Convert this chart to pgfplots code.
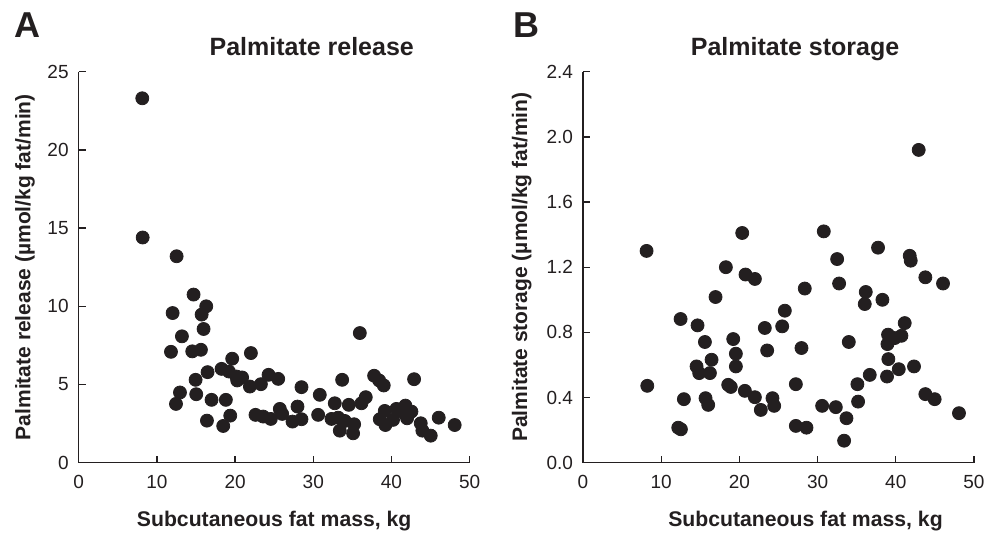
\documentclass[border=0pt]{standalone}
\usepackage{fontspec}
\setmainfont{Liberation Sans}
\usepackage{pgfplots}
\pgfplotsset{compat=1.18}
\definecolor{ink}{RGB}{35,31,32}

\pgfplotsset{
  panel/.style={
    scale only axis,
    width=195.5pt, height=195.5pt,
    anchor=south west,
    axis lines=left,
    axis line style={ink, line width=0.65pt, -},
    xmin=0, xmax=50, ymin=0,
    xtick={0,10,...,50},
    tick align=inside,
    major tick length=3.5pt,
    tick style={ink, line width=0.65pt},
    tick label style={font=\fontsize{9.5}{10}\selectfont, text=ink},
    xticklabel style={yshift=-2.5pt},
    yticklabel style={xshift=-1.5pt},
    /pgf/number format/assume math mode=true,
    clip=false,
  },
  dots/.style={only marks, mark=*, mark size=3.25pt, color=ink, mark options={fill=ink, draw=ink}},
}

\begin{document}
\begin{tikzpicture}
\useasboundingbox (-39.35pt,-34.65pt) rectangle (453.15pt,231.35pt);

% Panel A
\begin{axis}[panel, at={(0,0)}, ymax=25, ytick={0,5,...,25}]
\addplot[dots] coordinates {
(8.13,23.3) (8.18,14.4) (12.52,13.2) (14.69,10.75) (12.01,9.57) (16.31,10.0)
(15.72,9.47) (15.97,8.55) (13.20,8.08) (11.80,7.09) (14.52,7.12) (15.63,7.22)
(22.02,7.01) (19.63,6.65) (35.95,8.29) (18.27,6.00) (19.21,5.83) (16.48,5.79)
(20.19,5.51) (20.90,5.45) (20.27,5.26) (14.95,5.30) (21.89,4.87) (23.30,5.02)
(24.28,5.62) (25.51,5.36) (28.49,4.83) (33.69,5.30) (37.78,5.56) (38.42,5.26)
(39.01,4.94) (42.89,5.34) (12.95,4.49) (12.44,3.76) (15.03,4.38) (16.99,4.02)
(18.82,4.02) (30.83,4.34) (36.71,4.19) (36.16,3.80) (32.75,3.80) (34.54,3.70)
(16.40,2.69) (18.48,2.35) (19.38,3.01) (22.61,3.06) (23.59,2.95) (24.57,2.80)
(25.72,3.44) (26.02,3.12) (27.34,2.63) (27.98,3.59) (28.49,2.78) (30.62,3.06)
(32.33,2.80) (33.18,2.88) (33.39,2.05) (34.03,2.67) (35.22,2.46) (35.09,1.88)
(38.50,2.78) (39.14,3.31) (39.22,2.41) (40.20,2.74) (40.63,3.44) (41.78,3.65)
(41.99,2.84) (41.27,3.27) (42.55,3.27) (43.74,2.52) (43.95,2.05) (45.02,1.73)
(46.04,2.88) (48.08,2.41)
};
\node[anchor=base, font=\bfseries\fontsize{12.5}{14}\selectfont, text=ink]
  at ([yshift=8.35pt]rel axis cs:0.596,1) {Palmitate release};
\node[anchor=base west, font=\bfseries\fontsize{18}{20}\selectfont, text=ink]
  at ([xshift=-35.5pt,yshift=212.7pt]rel axis cs:0,0) {A};
\node[rotate=90, font=\bfseries\fontsize{10.5}{12}\selectfont, text=ink]
  at ([xshift=-26.85pt]rel axis cs:0,0.5) {Palmitate release (µmol/kg fat/min)};
\node[font=\bfseries\fontsize{10.6}{12}\selectfont, text=ink]
  at ([yshift=-29.2pt]rel axis cs:0.5,0) {Subcutaneous fat mass, kg};
\end{axis}

% Panel B
\begin{axis}[panel, at={(252.15pt,0)}, ymax=2.4, ytick={0,0.4,...,2.4},
  yticklabel style={/pgf/number format/.cd, fixed, fixed zerofill, precision=1}]
\addplot[dots] coordinates {
(42.93,1.92) (8.13,1.30) (20.36,1.41) (30.79,1.42) (37.73,1.32) (32.50,1.25)
(41.78,1.27) (41.91,1.24) (18.27,1.20) (20.78,1.155) (21.98,1.128) (16.95,1.017)
(28.36,1.069) (32.75,1.10) (43.78,1.138) (46.04,1.10) (36.16,1.048) (36.03,0.974)
(38.29,1.00) (12.48,0.882) (14.65,0.843) (25.81,0.933) (23.25,0.827) (25.47,0.837)
(41.14,0.857) (39.01,0.786) (40.72,0.779) (39.86,0.765) (38.93,0.728) (15.59,0.741)
(19.21,0.759) (33.99,0.741) (19.55,0.669) (23.55,0.689) (27.94,0.704) (16.44,0.632)
(14.52,0.591) (19.55,0.591) (14.86,0.55) (16.23,0.55) (39.05,0.636) (40.38,0.574)
(42.33,0.591) (36.67,0.539) (38.88,0.529) (8.22,0.472) (18.57,0.478) (18.90,0.465)
(27.22,0.482) (35.09,0.482) (20.70,0.441) (21.98,0.402) (12.90,0.39) (15.67,0.396)
(16.01,0.355) (24.23,0.396) (24.45,0.349) (22.74,0.324) (30.58,0.349) (32.33,0.341)
(35.18,0.375) (33.69,0.273) (43.78,0.421) (44.97,0.39) (48.08,0.304) (12.18,0.215)
(12.52,0.205) (27.22,0.226) (28.58,0.215) (33.39,0.135)
};
\node[anchor=base, font=\bfseries\fontsize{12.5}{14}\selectfont, text=ink]
  at ([yshift=8.35pt]rel axis cs:0.5425,1) {Palmitate storage};
\node[anchor=base west, font=\bfseries\fontsize{18}{20}\selectfont, text=ink]
  at ([xshift=-38.5pt,yshift=212.7pt]rel axis cs:0,0) {B};
\node[rotate=90, font=\bfseries\fontsize{10.5}{12}\selectfont, text=ink]
  at ([xshift=-30.65pt]rel axis cs:0,0.5) {Palmitate storage (µmol/kg fat/min)};
\node[font=\bfseries\fontsize{10.6}{12}\selectfont, text=ink]
  at ([xshift=13.5pt,yshift=-29.2pt]rel axis cs:0.5,0) {Subcutaneous fat mass, kg};
\end{axis}
\end{tikzpicture}
\end{document}
